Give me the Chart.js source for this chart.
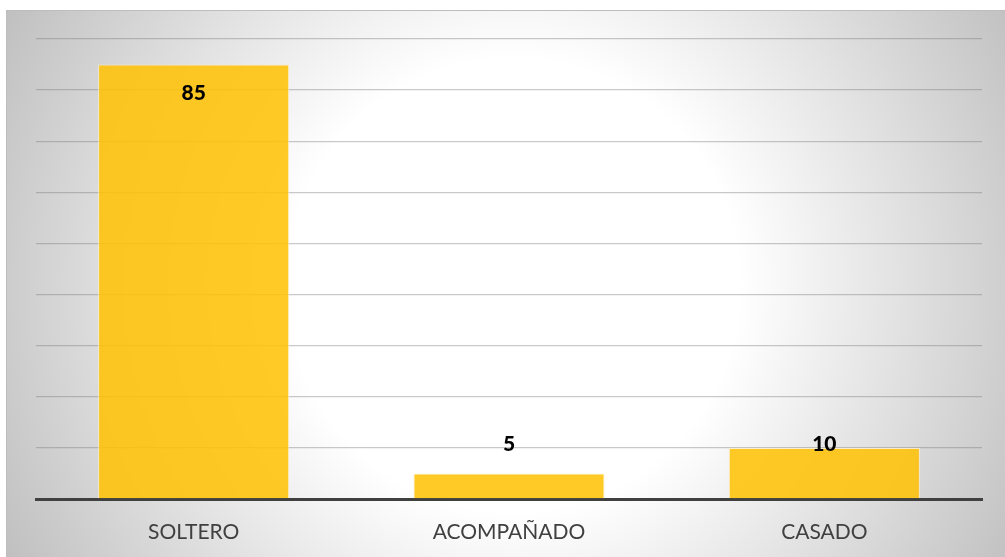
<!DOCTYPE html>
<html>
<head>
<meta charset="utf-8">
<script src="https://cdn.jsdelivr.net/npm/chart.js@4.4.1/dist/chart.umd.min.js"></script>
<style>
  html, body { margin:0; padding:0; background:#fff; }
  canvas { display:block; }
</style>
</head>
<body>
<canvas id="estadoCivil" width="1005" height="557"></canvas>
<script>
  const categorias = ['SOLTERO', 'ACOMPAÑADO', 'CASADO'];
  const valores = [85, 5, 10];
  const yMax = 90;
  const yStep = 10;

  // fondo degradado radial tipo Excel
  const bgPlugin = {
    id: 'bgPlugin',
    beforeDraw(chart){
      const ctx = chart.ctx;
      ctx.save();
      ctx.fillStyle = '#fff';
      ctx.fillRect(0, 0, chart.width, chart.height);
      const g = ctx.createRadialGradient(513, 285, 0, 513, 285, 580);
      g.addColorStop(0, '#ffffff');
      g.addColorStop(0.39, '#ffffff');
      g.addColorStop(1, '#bfbfbf');
      ctx.fillStyle = g;
      ctx.fillRect(6, 10, chart.width - 6, chart.height - 10);
      ctx.strokeStyle = '#bdbdbd';
      ctx.lineWidth = 1;
      ctx.beginPath();
      ctx.moveTo(6.5, chart.height); ctx.lineTo(6.5, 10.5); ctx.lineTo(chart.width, 10.5);
      ctx.stroke();
      ctx.restore();
    }
  };

  // etiquetas de datos
  const labelPlugin = {
    id: 'labelPlugin',
    afterDatasetsDraw(chart){
      const ctx = chart.ctx;
      const meta = chart.getDatasetMeta(0);
      const ys = chart.scales.y;
      ctx.save();
      ctx.font = '900 21px Lato';
      ctx.fillStyle = '#000';
      ctx.textAlign = 'center';
      ctx.textBaseline = 'alphabetic';
      meta.data.forEach((bar, i) => {
        const v = valores[i];
        let y;
        if(bar.y - 30 < chart.chartArea.top) y = bar.y + 35;
        else y = ys.getPixelForValue(Math.max(v, yStep)) + 3;
        ctx.fillText(String(v), bar.x, y);
      });
      ctx.restore();
    }
  };

  new Chart(document.getElementById('estadoCivil'), {
    type: 'bar',
    data: {
      labels: categorias,
      datasets: [{
        data: valores,
        backgroundColor: 'rgba(255,193,6,0.87)',
        borderColor: 'rgba(255,240,200,0.8)',
        borderWidth: 1,
        categoryPercentage: 1,
        barPercentage: 0.606
      }]
    },
    options: {
      responsive: false,
      animation: false,
      layout: { padding: { left: 36, right: 23, top: 39, bottom: 0 } },
      plugins: { legend: { display: false }, tooltip: { enabled: false } },
      scales: {
        x: {
          grid: { display: false, drawTicks: false },
          border: { color: '#404040', width: 3 },
          ticks: { color: '#404040', font: { family: 'Lato', size: 21 }, padding: 21, maxRotation: 0 },
          afterFit(scale){ scale.height = 58; }
        },
        y: {
          min: 0, max: yMax,
          ticks: { stepSize: yStep, display: false },
          grid: { color: 'rgba(120,120,120,0.4)', lineWidth: 1.3, drawTicks: false },
          border: { display: false },
          afterFit(scale){ scale.width = 0; }
        }
      }
    },
    plugins: [bgPlugin, labelPlugin]
  });
</script>
</body>
</html>
